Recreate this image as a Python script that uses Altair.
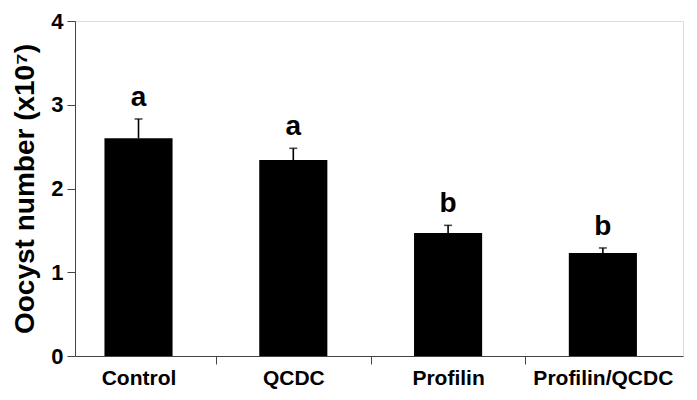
import altair as alt
import pandas as pd

groups = ["Control", "QCDC", "Profilin", "Profilin/QCDC"]
means = [2.60, 2.34, 1.47, 1.23]
errors = [0.23, 0.14, 0.09, 0.06]
letters = ["a", "a", "b", "b"]

df = pd.DataFrame({
    "group": groups,
    "mean": means,
    "err": errors,
    "letter": letters,
})
df["top"] = df["mean"] + df["err"]

FONT = "Liberation Sans"
W = 608
H = 335
TOP = 13
STEP = W / (4 - 0.56 + 2 * 0.244)

xscale = alt.Scale(paddingInner=0.56, paddingOuter=0.244, align=0.39)
xenc = alt.X(
    "group:N",
    sort=groups,
    scale=xscale,
    axis=alt.Axis(
        title=None,
        labelAngle=0,
        labelFont=FONT,
        labelFontSize=21,
        labelFontWeight="bold",
        labelColor="black",
        labelPadding=3,
        tickSize=8,
        tickColor="#444444",
        domainColor="#444444",
        tickOffset=-STEP / 2,
        labelOffset=STEP / 2,
        tickOpacity={"condition": {"test": "datum.value === 'Control'", "value": 0}, "value": 1},
    ),
)

yscale = alt.Scale(domain=[0, 4])
yaxis = alt.Axis(
    title="Oocyst number (x10\u2077)",
    values=[0, 1, 2, 3, 4],
    format="d",
    grid=False,
    labelFont=FONT,
    labelFontSize=22,
    labelFontWeight="bold",
    labelColor="black",
    labelPadding=4,
    tickSize=8,
    tickColor="#444444",
    domainColor="#444444",
    titleFont=FONT,
    titleFontSize=28,
    titleFontWeight="bold",
    titleColor="black",
    titlePadding=11,
)

base = alt.Chart(df)

bars = base.mark_bar(color="black").encode(
    x=xenc,
    y=alt.Y("mean:Q", scale=yscale, axis=yaxis),
)

rules = base.mark_rule(color="black", strokeWidth=1.6).encode(
    x=alt.X("group:N", sort=groups),
    y="mean:Q",
    y2="top:Q",
)

caps = base.mark_tick(color="black", size=8, thickness=1.6, orient="horizontal").encode(
    x=alt.X("group:N", sort=groups),
    y="top:Q",
)

texts = base.mark_text(
    font=FONT, fontSize=28, fontWeight="bold", color="black",
    baseline="bottom", dy=-7,
).encode(
    x=alt.X("group:N", sort=groups),
    y="top:Q",
    text="letter:N",
)

chart = (bars + rules + caps + texts).properties(
    width=W,
    height=H,
    autosize=alt.AutoSizeParams(type="none"),
    padding={"left": 67, "top": TOP, "right": 6, "bottom": 384 - TOP - H},
).configure_view(stroke=None).configure(background="white")

chart.save("out.html", embed_options={"renderer": "svg", "actions": False})
